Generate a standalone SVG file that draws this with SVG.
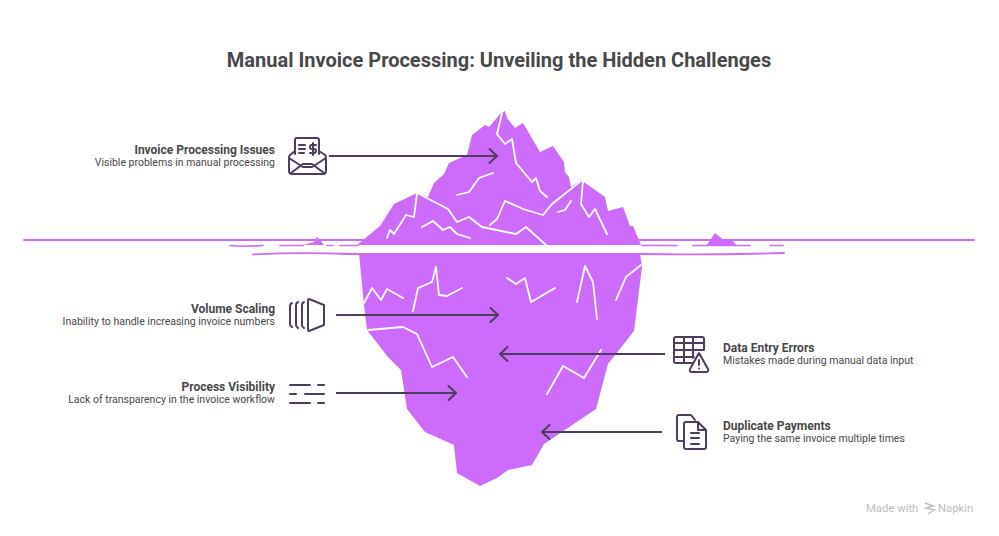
<svg xmlns="http://www.w3.org/2000/svg" width="999" height="536" viewBox="0 0 999 536">
<defs>
<marker id="arrow" viewBox="0 0 10 16" refX="9" refY="8" markerWidth="10" markerHeight="16" markerUnits="userSpaceOnUse" orient="auto"><path d="M1.5 1 L9 8 L1.5 15" fill="none" stroke="#4e3d5f" stroke-width="2" stroke-linecap="round" stroke-linejoin="round"/></marker>
</defs>
<style>
text{font-family:Roboto,"Liberation Sans",sans-serif}
.title{font-size:20px;font-weight:700;fill:#484848}
.h{font-size:12px;font-weight:700;fill:#484848}
.d{font-size:10.5px;fill:#484848}
.l{text-anchor:end}
.berg{fill:#cc6bfc}
.water{stroke:#cc6bfc;fill:none;stroke-linecap:round}
.crack{fill:none;stroke:#fff;stroke-width:1.8;stroke-linecap:round;stroke-linejoin:round}
.conn{fill:none;stroke:#4e3d5f;stroke-width:2;marker-end:url(#arrow)}
.ic{fill:none;stroke:#4e3d5f;stroke-width:2;stroke-linecap:round;stroke-linejoin:round}
.wm{font-size:11.300px;fill:#bdbdbd}
</style>
<rect width="999" height="536" fill="#fff"/>
<text class="title" x="499" y="67" text-anchor="middle">Manual Invoice Processing: Unveiling the Hidden Challenges</text>
<g id="iceberg">
<path class="water" stroke-width="2" d="M24 240H974"/>
<path class="water" stroke-width="1.700" d="M230 245.500Q245 247 263 245.500M280 245.500H303M327 245.500H333M340 245.500H358M642 245.500H677M693 245.500H750M770 245.500H783"/>
<path class="water" stroke-width="1.800" d="M253 254.500Q300 252 350 254H640Q710 255 784 253"/>
<path class="berg" d="M303 245L314 242L317 237L320 240L324 245ZM706 246L715 233L725 241L731 239L737 246Z"/>
<path class="berg" d="M357 245L380 226L394 204L417 193L428 197L434 183L444 174L449 163L467 155L472 135L485 125L489 127L501 113L505 111L507 118L515 128L523 123L540 152L553 146L564 162L565 172L569 177L571 187L581 180L605 197L608 211L623 207L630 226L633 226L641 245Z"/>
<path class="berg" d="M359 253H640L642 267L634 331L608 364L596 409L544 444L532 465L508 470L497 478L480 486L457 473L454 445L425 432L407 409L401 370L388 357L367 330L364 305Z"/>
<g class="crack">
<path d="M502 113L497 134L505 144L512 139L516 163L532 182L536 178L540 191L547 197"/>
<path d="M493 173L479 178L469 192L457 195"/>
<path d="M417 193L414 217L406 215L394 234L390 230L387 238"/>
<path d="M417 193L448 209L457 222L469 217L482 227L516 234L526 227L546 245"/>
<path d="M422 227L433 221L443 230L450 227L457 234L470 238"/>
<path d="M490 225L497 219L505 201L523 209L543 215L552 204L581 181"/>
<path d="M558 212L565 210L571 201"/>
<path d="M583 181L581 204L589 217L595 209L607 234"/>
<path d="M364 303L372 288L381 300L387 289L403 298"/>
<path d="M413 311L418 288L432 282L436 267L439 295L447 296L462 288"/>
<path d="M507 278L516 284L525 278L531 302L555 288"/>
<path d="M577 302L585 266L593 282L597 319"/>
<path d="M616 300L626 277L641 265"/>
<path d="M368 330L403 327L417 334L432 367L453 357L467 377"/>
<path d="M547 394L563 366L584 378L601 350"/>
</g>
</g>
<g id="connectors">
<path class="conn" d="M329 156H497"/>
<path class="conn" d="M336 315H498"/>
<path class="conn" d="M336 393H456"/>
<path class="conn" d="M665 354H500"/>
<path class="conn" d="M662 432H542"/>
</g>
<g id="node-invoice-issues">
<text class="h l" x="275" y="154">Invoice Processing Issues</text>
<text class="d l" x="275" y="166">Visible problems in manual processing</text>
<path class="ic" d="M295 154V140Q295 138 297 138H317Q319 138 319 140V154M295 151L290 155Q289 156 289 158V171Q289 174 292 174H323Q326 174 326 171V158Q326 156 325 155L319 151M289 158L303 167H312L326 158M291 173L303 164H312L324 173M299 145H305M299 149H305M299 153H304M313 143V155M316 145H311.500Q310 145 310 147Q310 149 312 149H314Q316 149 316 151Q316 153 314 153H310"/>
</g>
<g id="node-volume-scaling">
<text class="h l" x="275" y="313">Volume Scaling</text>
<text class="d l" x="275" y="325">Inability to handle increasing invoice numbers</text>
<path class="ic" d="M309 299L324 305V325L309 331Q308 331 308 330V300Q308 299 309 299ZM304 302Q302 303 302 305V325Q302 327 304 328M298 302Q296 303 296 305V325Q296 327 298 328M292 303Q290 304 290 306V324Q290 326 292 327"/>
</g>
<g id="node-process-visibility">
<text class="h l" x="275" y="391">Process Visibility</text>
<text class="d l" x="275" y="403">Lack of transparency in the invoice workflow</text>
<path class="ic" d="M290 385H310M318 385H324M290 394H296M305 394H324M290 403H310M318 403H324"/>
</g>
<g id="node-data-entry">
<text class="h" x="723" y="352">Data Entry Errors</text>
<text class="d" x="723" y="364">Mistakes made during manual data input</text>
<path class="ic" d="M692 363H676Q674 363 674 361V339Q674 337 676 337H702Q704 337 704 339V350M674 343H704M674 350H704M674 357H694M684 337V363M693 337V358M699 353L708 369Q709 372 706 372H692Q689 372 690 369ZM699 360V365M699 368.500V368.600"/>
</g>
<g id="node-duplicate">
<text class="h" x="723" y="430">Duplicate Payments</text>
<text class="d" x="723" y="442">Paying the same invoice multiple times</text>
<path class="ic" d="M683 441H679Q677 441 677 439V417Q677 415 679 415H691L695 420M686 422H698L706 430V447Q706 449 704 449H686Q684 449 684 447V424Q684 422 686 422ZM698 422V430H706M691 433H699M691 438H699M691 444H699"/>
</g>
<g id="watermark">
<text class="wm" x="866" y="512">Made with</text>
<path d="M925 503L933 506L926 508L934 510L928 514" fill="none" stroke="#bdbdbd" stroke-width="1.500"/>
<text class="wm" x="938" y="512">Napkin</text>
</g>
</svg>
